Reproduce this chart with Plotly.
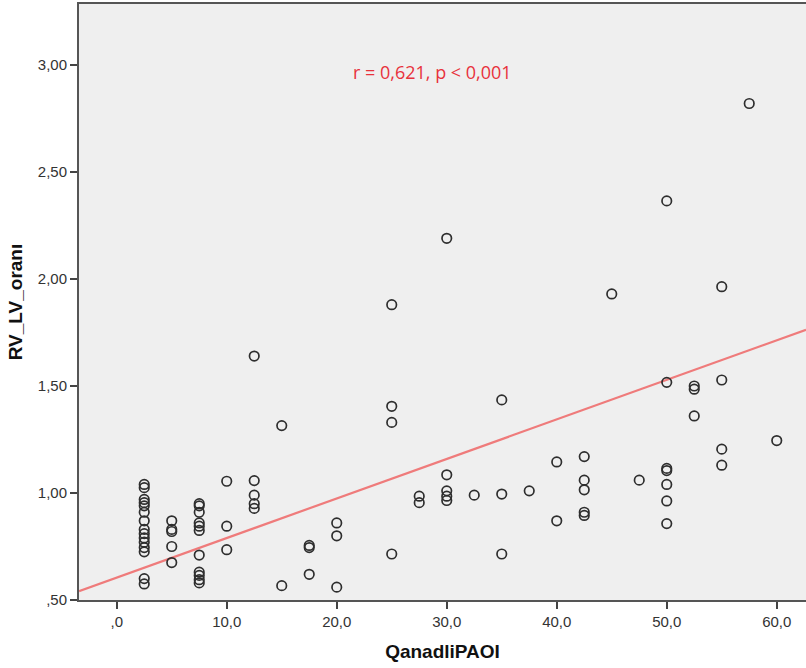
import numpy as np
import plotly.graph_objects as go

# QanadliPAOI (x) and RV/LV ratio (y), one entry per patient, grouped by PAOI value
paoi = (
    [2.5] * 15
    + [5.0] * 5
    + [7.5] * 11
    + [10.0] * 3
    + [12.5] * 5
    + [15.0] * 2
    + [17.5] * 3
    + [20.0] * 3
    + [25.0] * 4
    + [27.5] * 2
    + [30.0] * 5
    + [32.5]
    + [35.0] * 3
    + [37.5]
    + [40.0] * 2
    + [42.5] * 5
    + [45.0]
    + [47.5]
    + [50.0] * 7
    + [52.5] * 3
    + [55.0] * 4
    + [57.5]
    + [60.0]
)
rv_lv = (
    [1.04, 1.025, 0.97, 0.955, 0.94, 0.91, 0.87, 0.83, 0.81, 0.79, 0.77, 0.745, 0.725, 0.60, 0.575]
    + [0.87, 0.83, 0.82, 0.75, 0.675]
    + [0.95, 0.94, 0.91, 0.86, 0.845, 0.825, 0.71, 0.63, 0.615, 0.595, 0.58]
    + [1.055, 0.845, 0.735]
    + [1.64, 1.058, 0.99, 0.95, 0.928]
    + [1.315, 0.567]
    + [0.755, 0.745, 0.62]
    + [0.86, 0.80, 0.56]
    + [1.88, 1.405, 1.33, 0.715]
    + [0.985, 0.955]
    + [2.19, 1.085, 1.01, 0.985, 0.965]
    + [0.99]
    + [1.435, 0.995, 0.715]
    + [1.01]
    + [1.145, 0.87]
    + [1.17, 1.06, 1.015, 0.91, 0.895]
    + [1.93]
    + [1.06]
    + [2.365, 1.517, 1.115, 1.105, 1.04, 0.963, 0.857]
    + [1.50, 1.485, 1.36]
    + [1.964, 1.528, 1.205, 1.13]
    + [2.82]
    + [1.245]
)

# reported linear fit: RV_LV_orani = intercept + slope * QanadliPAOI
fit_intercept = 0.605
fit_slope = 0.01847

x_ticks = [0, 10, 20, 30, 40, 50, 60]
x_tick_text = [",0", "10,0", "20,0", "30,0", "40,0", "50,0", "60,0"]
y_ticks = [0.5, 1.0, 1.5, 2.0, 2.5, 3.0]
y_tick_text = [",50", "1,00", "1,50", "2,00", "2,50", "3,00"]

x_range = [-3.43, 62.66]
y_range = [0.5, 3.285]

stat_text = "r = 0,621, p < 0,001"

fit_x = np.array(x_range)
fit_y = fit_intercept + fit_slope * fit_x

fig = go.Figure()
fig.add_trace(go.Scatter(
    x=fit_x, y=fit_y, mode="lines",
    line=dict(color="#ef7b7b", width=2.2),
    hoverinfo="skip", showlegend=False,
))
fig.add_trace(go.Scatter(
    x=paoi, y=rv_lv, mode="markers",
    marker=dict(symbol="circle-open", size=9.5, color="#2e2e2e",
                line=dict(width=1.7, color="#2e2e2e")),
    showlegend=False,
))

fig.add_annotation(
    x=28.75, y=2.967, xref="x", yref="y", text=stat_text, showarrow=False,
    font=dict(family="Open Sans", size=18, color="#e8323c"),
)

axis_font = dict(family="Liberation Sans", size=15, color="#333333")
title_font = dict(family="Liberation Sans", size=19, color="#111111")

fig.update_xaxes(
    range=x_range, tickvals=x_ticks, ticktext=x_tick_text,
    ticks="outside", ticklen=7, tickwidth=2, tickcolor="#444444",
    showline=True, linecolor="#555555", linewidth=2, mirror=True,
    showgrid=False, zeroline=False, tickfont=axis_font,
    title=dict(text="<b>QanadliPAOI</b>", font=title_font, standoff=16),
)
fig.update_yaxes(
    range=y_range, tickvals=y_ticks, ticktext=y_tick_text,
    ticks="outside", ticklen=7, tickwidth=2, tickcolor="#444444",
    showline=True, linecolor="#555555", linewidth=2,
    showgrid=False, zeroline=False, tickfont=axis_font,
    title=dict(text="<b>RV_LV_oranı</b>", font=title_font, standoff=10),
)

fig.update_layout(
    width=806, height=668,
    margin=dict(l=79, r=0, t=4, b=68),
    plot_bgcolor="#efefef", paper_bgcolor="#ffffff",
)

fig.write_html("out.html")
